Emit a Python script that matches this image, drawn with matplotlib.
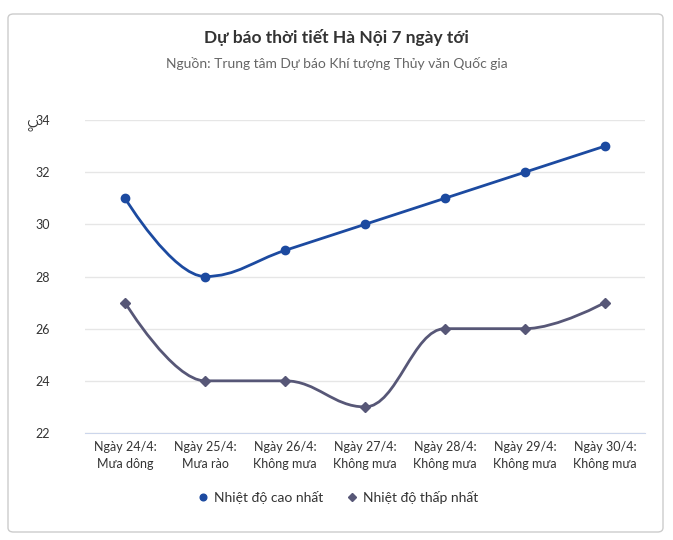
import matplotlib.pyplot as plt
from matplotlib.path import Path
from matplotlib.patches import PathPatch, FancyBboxPatch

plt.rcParams['font.family'] = ['Lato', 'DejaVu Sans']

days = ["Ngày 24/4:\nMưa dông", "Ngày 25/4:\nMưa rào", "Ngày 26/4:\nKhông mưa",
        "Ngày 27/4:\nKhông mưa", "Ngày 28/4:\nKhông mưa", "Ngày 29/4:\nKhông mưa",
        "Ngày 30/4:\nKhông mưa"]
t_high = [31, 28, 29, 30, 31, 32, 33]
t_low = [27, 24, 24, 23, 26, 26, 27]

c_high = "#1c4aa0"
c_low = "#575777"


def spline_path(xs, ys, smooth=1.5):
    # highcharts-like spline control points
    d = smooth + 1
    verts = [(xs[0], ys[0])]
    codes = [Path.MOVETO]
    n = len(xs)
    ctrl = []
    for i in range(n):
        if i == 0 or i == n - 1:
            ctrl.append(((xs[i], ys[i]), (xs[i], ys[i])))
            continue
        lx = (smooth * xs[i] + xs[i - 1]) / d
        ly = (smooth * ys[i] + ys[i - 1]) / d
        rx = (smooth * xs[i] + xs[i + 1]) / d
        ry = (smooth * ys[i] + ys[i + 1]) / d
        if rx != lx:
            k = (ry - ly) / (rx - lx)
            ly = ys[i] + (lx - xs[i]) * k
            ry = ys[i] + (rx - xs[i]) * k
        if ly > max(ys[i - 1], ys[i]) or ly < min(ys[i - 1], ys[i]):
            ly = max(min(ly, max(ys[i - 1], ys[i])), min(ys[i - 1], ys[i]))
            ry = 2 * ys[i] - ly
        if ry > max(ys[i + 1], ys[i]) or ry < min(ys[i + 1], ys[i]):
            ry = max(min(ry, max(ys[i + 1], ys[i])), min(ys[i + 1], ys[i]))
            ly = 2 * ys[i] - ry
        ctrl.append(((lx, ly), (rx, ry)))
    for i in range(1, n):
        verts += [ctrl[i - 1][1], ctrl[i][0], (xs[i], ys[i])]
        codes += [Path.CURVE4] * 3
    return Path(verts, codes)


fig = plt.figure(figsize=(6.73, 5.4), dpi=100)
fig.patches.append(FancyBboxPatch((8 / 673, 8 / 540), 655 / 673, 518 / 540,
                                  boxstyle="round,pad=0,rounding_size=0.008",
                                  transform=fig.transFigure, fill=False,
                                  ec="#cccccc", lw=1))
ax = fig.add_axes([85 / 673, 1 - 433 / 540, 560 / 673, 313 / 540])
xs = list(range(len(days)))

ax.add_patch(PathPatch(spline_path(xs, t_high), fill=False, ec=c_high, lw=2))
ax.add_patch(PathPatch(spline_path(xs, t_low), fill=False, ec=c_low, lw=2))
ax.plot(xs, t_high, 'o', color=c_high, ms=6, label="Nhiệt độ cao nhất")
ax.plot(xs, t_low, 'D', color=c_low, ms=5, label="Nhiệt độ thấp nhất")

ax.set_xlim(-0.5, 6.5)
ax.set_ylim(22, 34)
ax.set_yticks(range(22, 35, 2))
ax.set_xticks(xs)
ax.set_xticklabels(days, fontsize=9, color="#333333", linespacing=1.5)
ax.tick_params(axis='y', labelsize=9, colors="#333333", length=0, pad=25)
ax.tick_params(axis='x', length=0, pad=6)
ax.grid(axis='y', color="#e6e6e6", lw=1)
for s in ax.spines.values():
    s.set_visible(False)
ax.spines['bottom'].set_visible(True)
ax.spines['bottom'].set_color("#ccd6eb")
ax.set_axisbelow(True)
ax.text(-0.09, 0.985, "°C", transform=ax.transAxes, rotation=90, fontsize=9,
        color="#333333", ha='center', va='center')

fig.text(0.5, 1 - 38 / 540, "Dự báo thời tiết Hà Nội 7 ngày tới", ha='center',
         va='center', fontsize=12.5, fontweight='bold', color="#333333")
fig.text(0.5, 1 - 63 / 540, "Nguồn: Trung tâm Dự báo Khí tượng Thủy văn Quốc gia",
         ha='center', va='center', fontsize=10, color="#666666")
fig.legend(loc='center', bbox_to_anchor=(0.5, 1 - 497 / 540), ncol=2, frameon=False,
           fontsize=10, handletextpad=0.2, columnspacing=1.5, labelcolor="#333333",
           markerscale=0.8, handlelength=1.2)

fig.savefig("out.png", dpi=100)
